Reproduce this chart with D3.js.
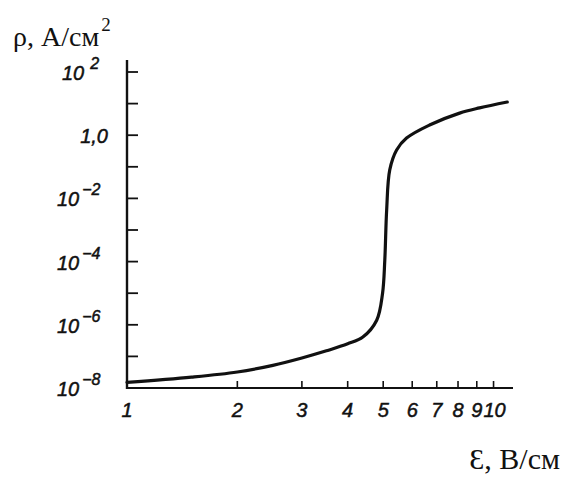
<!DOCTYPE html>
<html>
<head>
<meta charset="utf-8">
<script src="https://cdn.jsdelivr.net/npm/d3@7"></script>
<style>
  body { margin: 0; background: #fff; }
  svg { display: block; }
  .tick-label { font-family: "Liberation Sans", Arial, sans-serif; font-style: italic; font-size: 20px; fill: #111; stroke: #111; stroke-width: 0.5; }
  .title { font-family: "Liberation Serif", "Times New Roman", serif; fill: #111; }
</style>
</head>
<body>
<script>
// curve: field E (V/cm) vs current density rho (A/cm2)
var fieldE = [1, 1.5, 2, 2.5, 3, 3.5, 4, 4.4, 4.8, 4.98, 5.05, 5.11, 5.21, 5.44, 5.79, 6.69, 8.08, 9.16, 10.9];
var rhoVals = [1.5e-8, 2.2e-8, 3.2e-8, 5.2e-8, 8.9e-8, 1.5e-7, 2.5e-7, 4.1e-7, 1.4e-6, 1e-5, 1.1e-4, 4.3e-3, 0.08, 0.34, 0.81, 2.1, 5.0, 7.3, 11.2];

var xTicks = [1, 2, 3, 4, 5, 6, 7, 8, 9, 10];
var yMajor = [2, 0, -2, -4, -6, -8];       // labelled decades (exponents)
var yMinor = [1, -1, -3, -5, -7];

var width = 567, height = 479;

var svg = d3.select('body').append('svg')
  .attr('width', width)
  .attr('height', height);

var x = d3.scaleLog().domain([1, 11.3]).range([127, 513]);
var y = d3.scaleLog().domain([1e-8, 1e2]).range([388, 72]);

// axes lines
svg.append('line')
  .attr('x1', x(1)).attr('x2', x(1))
  .attr('y1', 60).attr('y2', y(1e-8) + 1)
  .attr('stroke', '#111').attr('stroke-width', 2.4);

svg.append('line')
  .attr('x1', x(1)).attr('x2', x.range()[1])
  .attr('y1', y(1e-8)).attr('y2', y(1e-8))
  .attr('stroke', '#111').attr('stroke-width', 2);

// y ticks (pointing inward)
svg.selectAll('.ytick')
  .data(yMajor.concat(yMinor).filter(function(d){ return d > -8; }))
  .enter().append('line')
    .attr('class', 'ytick')
    .attr('x1', x(1)).attr('x2', x(1) + 11)
    .attr('y1', function(d){ return y(Math.pow(10, d)); })
    .attr('y2', function(d){ return y(Math.pow(10, d)); })
    .attr('stroke', '#111').attr('stroke-width', 1.8);

// y labels
var ylab = svg.selectAll('.ylab')
  .data(yMajor)
  .enter().append('text')
    .attr('class', 'tick-label ylab')
    .attr('y', function(d){ return y(Math.pow(10, d)) + 8; });

ylab.each(function(d){
  var t = d3.select(this);
  if (d === 0) {
    t.attr('x', 108).attr('text-anchor', 'end').text('1,0');
  } else {
    t.attr('x', d > 0 ? 62 : 57);
    t.append('tspan').text('10');
    t.append('tspan')
      .attr('dx', d > 0 ? 6 : 3)
      .attr('dy', -11)
      .attr('font-size', 16)
      .text(d > 0 ? d : '\u2212' + (-d));
  }
});

// x ticks (pointing up)
svg.selectAll('.xtick')
  .data(xTicks.slice(1))
  .enter().append('line')
    .attr('class', 'xtick')
    .attr('x1', function(d){ return x(d); })
    .attr('x2', function(d){ return x(d); })
    .attr('y1', y(1e-8)).attr('y2', y(1e-8) - 7)
    .attr('stroke', '#111').attr('stroke-width', 1.6);

svg.selectAll('.xlab')
  .data(xTicks)
  .enter().append('text')
    .attr('class', 'tick-label xlab')
    .attr('x', function(d){ return x(d) + (d === 10 ? 1 : 0); })
    .attr('y', 417)
    .attr('text-anchor', 'middle')
    .text(function(d){ return d; });

// curve
var line = d3.line()
  .x(function(d){ return x(d[0]); })
  .y(function(d){ return y(d[1]); })
  .curve(d3.curveCatmullRom.alpha(0.5));

svg.append('path')
  .datum(d3.zip(fieldE, rhoVals))
  .attr('d', line)
  .attr('fill', 'none')
  .attr('stroke', '#111')
  .attr('stroke-width', 3.2)
  .attr('stroke-linecap', 'round');

// axis titles
var yt = svg.append('text').attr('class', 'title').attr('x', 13).attr('y', 46).attr('font-size', 28);
yt.append('tspan').text('\u03c1, А/см');
yt.append('tspan').attr('dy', -15).attr('dx', 2).attr('font-size', 19).text('2');

svg.append('text').attr('class', 'title')
  .attr('x', 560).attr('y', 469)
  .attr('font-size', 30)
  .attr('text-anchor', 'end')
  .text('\u0190, В/см');
</script>
</body>
</html>
